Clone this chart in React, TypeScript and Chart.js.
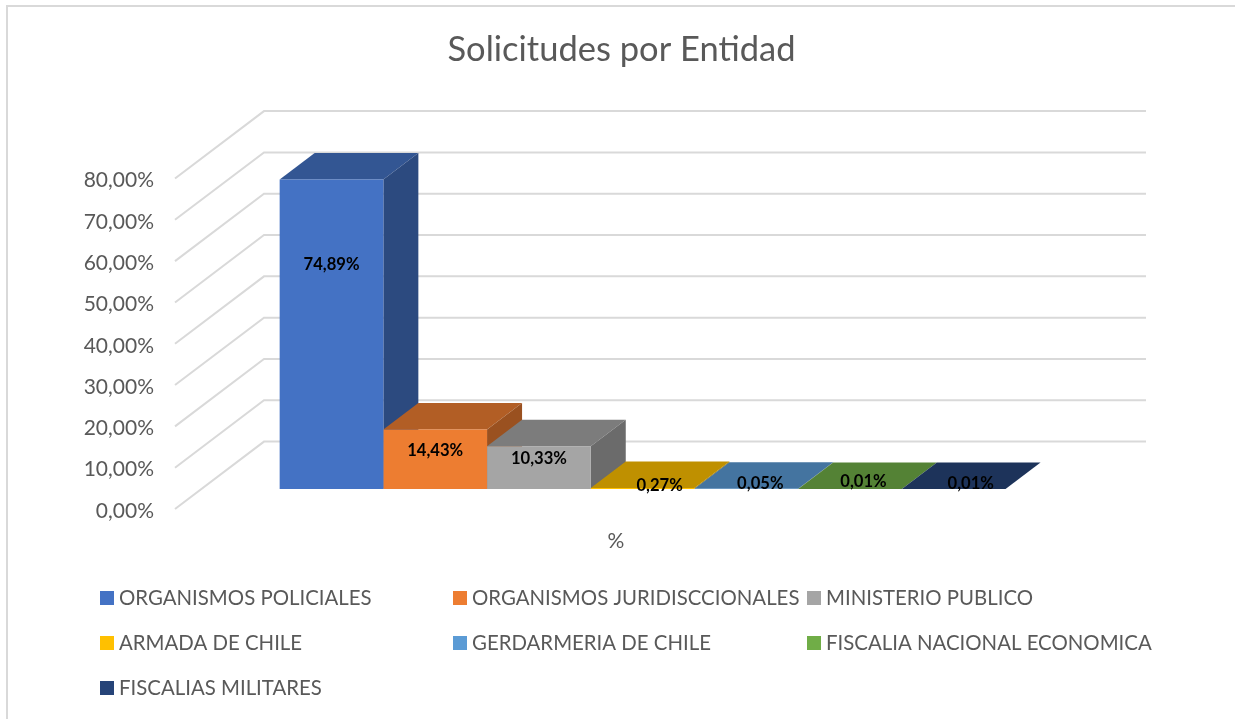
import React, { useEffect, useRef } from "react";
import { Chart, registerables } from "chart.js";

Chart.register(...registerables);

const categories = ["%"];
const seriesNames = [
  "ORGANISMOS POLICIALES",
  "ORGANISMOS JURIDISCCIONALES",
  "MINISTERIO PUBLICO",
  "ARMADA DE CHILE",
  "GERDARMERIA DE CHILE",
  "FISCALIA NACIONAL ECONOMICA",
  "FISCALIAS MILITARES",
];
const seriesValues = [74.89, 14.43, 10.33, 0.27, 0.05, 0.01, 0.01];
const seriesColors = ["#4472C4", "#ED7D31", "#A5A5A5", "#FFC000", "#5B9BD5", "#70AD47", "#264478"];
const labelNudgeX = [0, 0, 0, 17, 14, 13.5, 17];
const labelNudgeY = [85, 21.5, 12, -2.5, -5.5, -7.5, -5.5];

const FONT = "Lato, Carlito, Calibri, sans-serif";
const TEXT = "#595959";
const GRID = "#D9D9D9";
const WALL_DX = 89;
const WALL_DY = 67.4;
const BAR_DX = 26.6;
const BAR_DY = 20;
const DEPTH_DX = 35;
const DEPTH_DY = 26.5;
const LEGEND_X = [92, 445, 799];
const LEGEND_Y = [591, 636, 681];

const fmt = (v: number) => v.toFixed(2).replace(".", ",") + "%";

function shade(hex: string, f: number) {
  const n = parseInt(hex.slice(1), 16);
  const c = [(n >> 16) & 255, (n >> 8) & 255, n & 255].map((x) => Math.round(x * f));
  return `rgb(${c[0]},${c[1]},${c[2]})`;
}

const chart3d = {
  id: "chart3d",
  beforeDatasetsDraw(chart: any) {
    const { ctx, scales } = chart;
    const y = scales.y;
    const x = scales.x;
    ctx.save();
    ctx.strokeStyle = GRID;
    ctx.lineWidth = 2;
    y.ticks.forEach((t: any) => {
      const py = y.getPixelForValue(t.value);
      ctx.beginPath();
      ctx.moveTo(x.left, py);
      ctx.lineTo(x.left + WALL_DX, py - WALL_DY);
      ctx.lineTo(x.right + WALL_DX, py - WALL_DY);
      ctx.stroke();
    });
    seriesColors.forEach((color, i) => {
      const bar = chart.getDatasetMeta(i).data[0].getProps(["x", "y", "base", "width"], true);
      const l = bar.x - bar.width / 2 + BAR_DX;
      const r = bar.x + bar.width / 2 + BAR_DX;
      const top = bar.y - BAR_DY;
      const bottom = bar.base - BAR_DY;
      ctx.fillStyle = shade(color, 0.75);
      ctx.beginPath();
      ctx.moveTo(l, top);
      ctx.lineTo(l + DEPTH_DX, top - DEPTH_DY);
      ctx.lineTo(r + DEPTH_DX, top - DEPTH_DY);
      ctx.lineTo(r, top);
      ctx.closePath();
      ctx.fill();
      ctx.fillStyle = shade(color, 0.65);
      ctx.beginPath();
      ctx.moveTo(r, top);
      ctx.lineTo(r + DEPTH_DX, top - DEPTH_DY);
      ctx.lineTo(r + DEPTH_DX, bottom - DEPTH_DY);
      ctx.lineTo(r, bottom);
      ctx.closePath();
      ctx.fill();
    });
    ctx.restore();
    ctx.save();
    ctx.translate(BAR_DX, -BAR_DY);
  },
  afterDatasetsDraw(chart: any) {
    const { ctx } = chart;
    ctx.restore();
    ctx.save();
    ctx.fillStyle = "#000000";
    ctx.font = `bold 16.6px ${FONT}`;
    ctx.textAlign = "center";
    ctx.textBaseline = "middle";
    seriesValues.forEach((v, i) => {
      const bar = chart.getDatasetMeta(i).data[0].getProps(["x", "y"], true);
      ctx.fillText(fmt(v), bar.x + BAR_DX + labelNudgeX[i], bar.y - BAR_DY + labelNudgeY[i]);
    });
    // legend, aligned in three columns
    ctx.font = `20.4px ${FONT}`;
    ctx.textAlign = "left";
    seriesNames.forEach((name, i) => {
      const lx = LEGEND_X[i % 3];
      const ly = LEGEND_Y[Math.floor(i / 3)] - 7;
      ctx.fillStyle = seriesColors[i];
      ctx.fillRect(lx, ly, 14, 14);
      ctx.fillStyle = TEXT;
      ctx.fillText(name, lx + 19, ly + 7);
    });
    ctx.restore();
  },
};

export default function App() {
  const ref = useRef<HTMLCanvasElement>(null);
  useEffect(() => {
    const chart = new Chart(ref.current!, {
      type: "bar",
      data: {
        labels: categories,
        datasets: seriesNames.map((name, i) => ({
          label: name,
          data: [seriesValues[i]],
          backgroundColor: seriesColors[i],
          borderWidth: 0,
          clip: false as any,
          categoryPercentage: 0.823,
          barPercentage: 1,
          yAxisID: "y",
        })),
      },
      options: {
        responsive: false,
        animation: false,
        plugins: {
          legend: { display: false },
          tooltip: { enabled: false },
          title: {
            display: true,
            text: "Solicitudes por Entidad",
            color: TEXT,
            font: { family: FONT, size: 34.5, weight: "normal" },
            padding: { top: 21.8, bottom: 108.3 },
          },
        },
        scales: {
          x: {
            grid: { display: false },
            border: { display: false },
            ticks: { color: TEXT, font: { family: FONT, size: 21 }, padding: 12, maxRotation: 0 },
            afterFit: (s: any) => {
              s.height = 210;
            },
          },
          y: {
            min: 0,
            max: 80,
            grid: { display: false, drawTicks: false },
            border: { display: false },
            ticks: {
              stepSize: 10,
              color: TEXT,
              padding: 21,
              labelOffset: 2,
              font: { family: FONT, size: 21 },
              callback: (v: any) => fmt(Number(v)),
            },
            afterFit: (s: any) => {
              s.width = 167;
            },
          },
          spacer: {
            position: "right",
            grid: { display: false, drawTicks: false },
            border: { display: false },
            ticks: { display: false },
            afterFit: (s: any) => {
              s.width = 178;
            },
          },
        },
      },
      plugins: [chart3d],
    } as any);
    return () => chart.destroy();
  }, []);
  return (
    <div
      style={{
        position: "absolute",
        left: 6,
        top: 5,
        width: 1229,
        height: 714,
        boxSizing: "border-box",
        borderLeft: "2px solid #D9D9D9",
        borderTop: "2px solid #D9D9D9",
        background: "#FFFFFF",
        overflow: "hidden",
      }}
    >
      <canvas ref={ref} width={1227} height={712} style={{ display: "block" }} />
    </div>
  );
}
